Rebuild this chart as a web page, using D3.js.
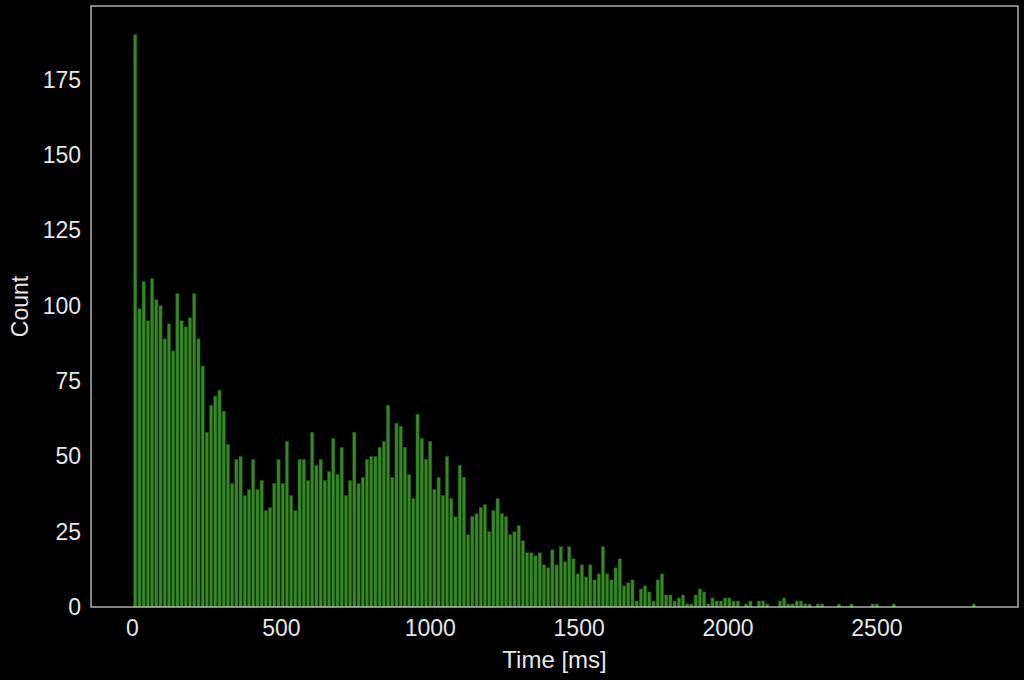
<!DOCTYPE html>
<html>
<head>
<meta charset="utf-8">
<script src="https://cdn.jsdelivr.net/npm/d3@7"></script>
<style>
  html, body { margin: 0; padding: 0; background: #000; }
  svg { display: block; }
  text { font-family: "Liberation Sans", Arial, sans-serif; fill: #e6e6e6; }
</style>
</head>
<body>
<svg id="chart" width="1024" height="680"></svg>
<script>
// ---- data ----
const binStart = 4;          // ms, left edge of first bin
const binWidth = 14.15;      // ms
const counts = [
  190, 99, 108, 95, 109, 102, 100, 89, 94, 85,
  104, 95, 93, 96, 104, 89, 80, 58, 67, 70,
  72, 65, 54, 41, 49, 50, 37, 39, 49, 39,
  42, 32, 33, 41, 49, 41, 55, 37, 32, 49,
  49, 42, 58, 47, 49, 42, 45, 56, 44, 53,
  37, 42, 58, 41, 43, 49, 50, 50, 53, 55,
  67, 43, 61, 60, 53, 44, 36, 64, 56, 49,
  55, 39, 43, 37, 50, 36, 30, 47, 43, 24,
  30, 31, 33, 34, 25, 32, 36, 31, 30, 24,
  25, 27, 22, 18, 18, 17, 18, 14, 13, 19,
  14, 20, 15, 20, 16, 11, 14, 10, 14, 9,
  11, 20, 11, 9, 13, 16, 7, 8, 9, 2,
  6, 7, 5, 2, 9, 11, 4, 4, 2, 3,
  4, 1, 1, 4, 6, 5, 1, 3, 2, 2,
  3, 3, 2, 2, 0, 1, 2, 0, 2, 2,
  1, 0, 0, 2, 3, 1, 1, 2, 2, 1,
  1, 0, 1, 1, 0, 0, 0, 1, 0, 0,
  1, 0, 0, 0, 0, 1, 1, 0, 0, 0,
  1, 0, 0, 0, 0, 0, 0, 0, 0, 0,
  0, 0, 0, 0, 0, 0, 0, 0, 0, 1
];
const xTicks = [0, 500, 1000, 1500, 2000, 2500];
const yTicks = [0, 25, 50, 75, 100, 125, 150, 175];
const xLabel = "Time [ms]";
const yLabel = "Count";

// ---- layout ----
const svg = d3.select("#chart");
const mLeft = 91, mRight = 1018, mTop = 6, mBottom = 607;

const xMin = binStart, xMax = binStart + binWidth * counts.length;
const xPad = (xMax - xMin) * 0.05;
const x = d3.scaleLinear().domain([xMin - xPad, xMax + xPad]).range([mLeft, mRight]);
const yMax = d3.max(counts) * 1.05;
const y = d3.scaleLinear().domain([0, yMax]).range([mBottom, mTop]);

svg.append("rect").attr("width", 1024).attr("height", 680).attr("fill", "#000");

// bars
const bins = counts.map((c, i) => ({x0: binStart + i * binWidth, x1: binStart + (i + 1) * binWidth, c}));
svg.append("g").selectAll("rect").data(bins.filter(d => d.c > 0)).join("rect")
  .attr("x", d => x(d.x0) + 0.5)
  .attr("width", d => x(d.x1) - x(d.x0) - 1.0)
  .attr("y", d => y(d.c))
  .attr("height", d => y(0) - y(d.c))
  .attr("fill", "#368824")
  .attr("stroke", "#1e5214")
  .attr("stroke-width", 0.5);

// axes
const xAxis = d3.axisBottom(x).tickValues(xTicks).tickSize(0).tickPadding(13).tickFormat(d3.format("d"));
const gx = svg.append("g").attr("transform", `translate(0,${mBottom})`).call(xAxis);
gx.select(".domain").remove();
gx.selectAll("text").attr("font-size", 23).attr("fill", "#e6e6e6");

const yAxis = d3.axisLeft(y).tickValues(yTicks).tickSize(0).tickPadding(10).tickFormat(d3.format("d"));
const gy = svg.append("g").attr("transform", `translate(${mLeft},0)`).call(yAxis);
gy.select(".domain").remove();
gy.selectAll("text").attr("font-size", 23).attr("fill", "#e6e6e6");

// frame
svg.append("rect")
  .attr("x", mLeft).attr("y", mTop)
  .attr("width", mRight - mLeft).attr("height", mBottom - mTop)
  .attr("fill", "none").attr("stroke", "#d0d0d0").attr("stroke-width", 1.25);

// labels
svg.append("text")
  .attr("x", (mLeft + mRight) / 2).attr("y", 668)
  .attr("text-anchor", "middle").attr("font-size", 24)
  .text(xLabel);
svg.append("text")
  .attr("transform", `translate(28,${(mTop + mBottom) / 2}) rotate(-90)`)
  .attr("text-anchor", "middle").attr("font-size", 23)
  .text(yLabel);
</script>
</body>
</html>
